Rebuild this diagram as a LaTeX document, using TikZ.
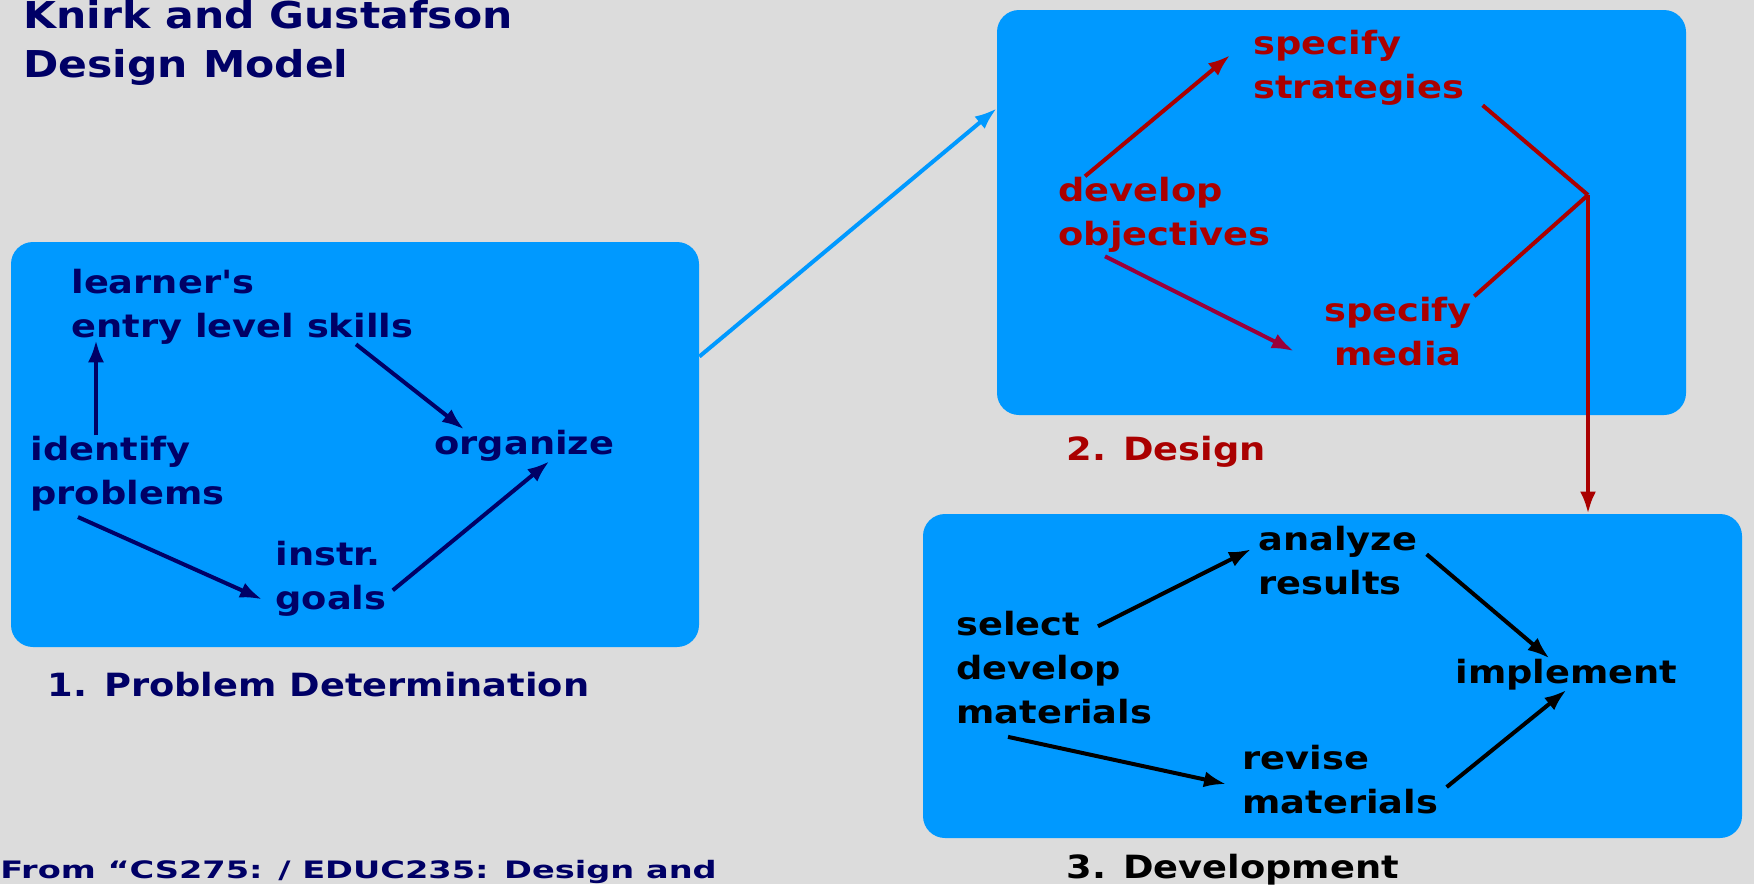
\documentclass[tikz,border=0pt]{standalone}
\usepackage{fontspec}
\usepackage{tikz}
\usetikzlibrary{arrows.meta}
\newfontfamily\chifont{DejaVu Sans}[FakeStretch=1.15]
\newfontfamily\chiwide{DejaVu Sans}[FakeStretch=1.4]
\newcommand\bodyfont{\chifont\bfseries\fontsize{16}{22}\selectfont}
\newcommand\titlefont{\chifont\bfseries\fontsize{18.5}{24.5}\selectfont}
\newcommand\notefont{\chiwide\bfseries\fontsize{12}{15}\selectfont}

\begin{document}
\begin{tikzpicture}[x=0.5pt, y=-0.5pt,
    panel/.style={fill=PanelBlue, draw=none, rounded corners=11pt, inner sep=0pt},
    word/.style={inner sep=0pt, align=left, anchor=base west, font=\bodyfont},
    link/.style={line width=2pt, -{Latex[length=11pt, width=8pt]}}]
    \definecolor{PaperGray}{HTML}{DCDCDC}
    \definecolor{PanelBlue}{HTML}{0099FF}
    \definecolor{Navy}{HTML}{000066}
    \definecolor{DarkRed}{HTML}{AA0000}
    \definecolor{Wine}{HTML}{99003A}
    \fill[PaperGray] (0,0) rectangle (1754,884);
    \useasboundingbox (0,0) rectangle (1754,884);

    \node[panel, minimum width=344pt, minimum height=202.5pt] (probbox) at (355,444.5) {};
    \node[panel, minimum width=344.5pt, minimum height=202.5pt] (designbox) at (1341.5,212.5) {};
    \node[panel, minimum width=409.5pt, minimum height=162pt] (devbox) at (1332.5,676) {};
    \draw[link, PanelBlue] ([yshift=44pt]probbox.east) -- ([yshift=52pt]designbox.west);

    \node[word, font=\titlefont, text=Navy] (title) at (23,77) {Knirk and Gustafson\\Design Model};
    \node[word, font=\notefont, text=Navy] (source) at (0,878) {From “CS275: / EDUC235: Design and};

    \begin{scope}[Navy]
        \node[word] (learner) at (71,337) {learner's\\entry level skills};
        \node[word] (identify) at (30,504) {identify\\problems};
        \node[word] (organize) at (434,454) {organize};
        \node[word] (goals) at (275,609) {instr.\\goals};
        \node[word] (probcap) at (47,696) {1. Problem Determination};
        \draw[link] ([xshift=33pt]identify.north west) -- ++(0,-95);
        \draw[link] ([xshift=142.5pt]learner.south west) -- ([xshift=15pt]organize.north west);
        \draw[link] ([xshift=24pt,yshift=-3pt]identify.south west) -- ([xshift=-6.5pt,yshift=8.5pt]goals.south west);
        \draw[link] ([xshift=3pt,yshift=-6pt]goals.east) -- ([xshift=12.5pt]organize.south);
    \end{scope}

    \begin{scope}[DarkRed]
        \node[word] (strategies) at (1253,98) {specify\\strategies};
        \node[word] (objectives) at (1058,245) {develop\\objectives};
        \node[word, align=center, anchor=base] (media) at (1398,365) {specify\\media};
        \node[word] (designcap) at (1066,460) {2. Design};
        \coordinate (join) at (1588,195);
        \draw[link] ([xshift=13.5pt]objectives.north west) -- ([xshift=-11.5pt,yshift=-13pt]strategies.north west);
        \draw[link, Wine] ([xshift=23.5pt,yshift=-2pt]objectives.south west) -- ([xshift=-15pt,yshift=-10pt]media.west);
        \draw[line width=2pt] ([xshift=9pt]strategies.south east) -- (join);
        \draw[line width=2pt] ([xshift=1pt]media.north east) -- (join);
        \draw[link] (join) -- (join |- devbox.north);
    \end{scope}

    \begin{scope}[black]
        \node[word] (analyze) at (1258,594) {analyze\\results};
        \node[word] (select) at (956,723) {select\\develop\\materials};
        \node[word] (implement) at (1455,683) {implement};
        \node[word] (revise) at (1242,813) {revise\\materials};
        \node[word] (devcap) at (1066,878) {3. Development};
        \draw[link] ([xshift=71pt,yshift=-8pt]select.north west) -- ([xshift=-3.5pt,yshift=-12pt]analyze.north west);
        \draw[link] ([xshift=4.5pt,yshift=-14.5pt]analyze.north east) -- ([xshift=-8.5pt]implement.north);
        \draw[link] ([xshift=26pt,yshift=-6.5pt]select.south west) -- ([xshift=-8pt,yshift=-2.5pt]revise.west);
        \draw[link] ([xshift=4pt,yshift=-4pt]revise.east) -- (implement.south);
    \end{scope}
\end{tikzpicture}
\end{document}
